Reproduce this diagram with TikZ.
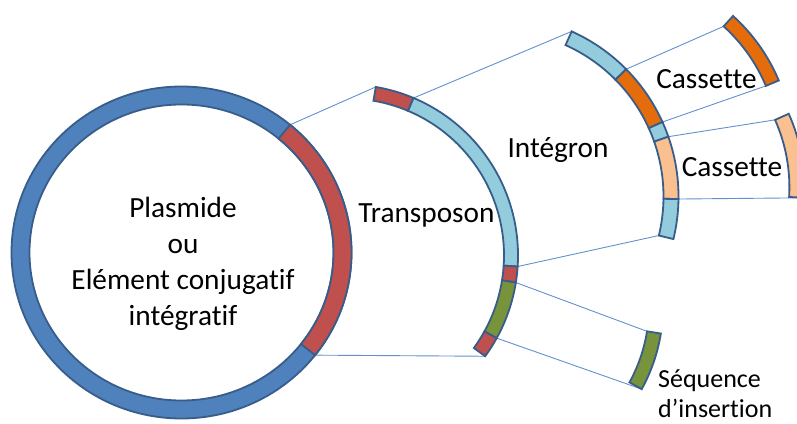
\documentclass[tikz,border=0pt]{standalone}
\usepackage{fontspec}
\setmainfont{Carlito}[Ligatures=NoCommon]
\usetikzlibrary{calc}
\definecolor{ringblue}{RGB}{79,129,189}
\definecolor{edgeblue}{RGB}{56,93,138}
\definecolor{segred}{RGB}{192,80,77}
\definecolor{seglight}{RGB}{147,205,221}
\definecolor{segorange}{RGB}{228,108,10}
\definecolor{segpeach}{RGB}{250,192,144}
\definecolor{seggreen}{RGB}{119,147,60}
\definecolor{linkblue}{RGB}{100,145,205}
% #1 style, #2 centre, #3 outer radius, #4 inner radius, #5 start angle, #6 end angle
\newcommand{\annsec}[6]{\path[#1] ($(#2)+(#5:#3pt)$) arc[start angle=#5,end angle=#6,radius=#3pt] -- ($(#2)+(#6:#4pt)$) arc[start angle=#6,end angle=#5,radius=#4pt] -- cycle;}
\begin{document}
\begin{tikzpicture}[x=1pt,y=1pt,
  seg/.style={draw=edgeblue,line width=1.8pt,line join=miter,fill=#1},
  link/.style={draw=linkblue,line width=0.9pt},
  lab/.style={font=\fontsize{29.3}{35.7}\selectfont,inner sep=0pt,text=black},
  smalllab/.style={font=\fontsize{26}{30}\selectfont,inner sep=0pt,text=black}]
\fill[white] (0,0) rectangle (797,423);
\clip (0,0) rectangle (797,423);
% centres
\coordinate (B) at (181.5,170.5);
\coordinate (T) at (347,167.5);
\coordinate (S) at (492,116.5);
\coordinate (I) at (497.5,226.5);
\coordinate (C1) at (611,272);
\coordinate (C2) at (623.4,235.6);
% link end points
\coordinate (bTop) at ($(B)+({170*cos(50.3)},{166*sin(50.3)})$);
\coordinate (bBot) at ($(B)+({170*cos(-38.2)},{166*sin(-38.2)})$);
\coordinate (tStart) at ($(T)+(80.3:171pt)$);
\coordinate (tB1) at ($(T)+(67.1:171pt)$);
\coordinate (tB2) at ($(T)+(-3.7:171pt)$);
\coordinate (tB3) at ($(T)+(-9.1:171pt)$);
\coordinate (tB4) at ($(T)+(-28.9:171pt)$);
\coordinate (tEnd) at ($(T)+(-36.1:171pt)$);
\coordinate (sTop) at ($(S)+(-9.1:157pt)$);
\coordinate (sBot) at ($(S)+(-28.9:171pt)$);
\coordinate (iTop) at ($(I)+(65.8:181pt)$);
\coordinate (iB1) at ($(I)+(44.7:181pt)$);
\coordinate (iB2) at ($(I)+(24.3:181pt)$);
\coordinate (iB3) at ($(I)+(19.3:181pt)$);
\coordinate (iB4) at ($(I)+(-0.8:181pt)$);
\coordinate (iEnd) at ($(I)+(-13.6:166pt)$);
\coordinate (c1Top) at ($(C1)+(47.9:168pt)$);
\coordinate (c1Bot) at ($(C1)+(22.8:168pt)$);
\coordinate (c2Top) at ($(C2)+(24:166pt)$);
\coordinate (c2Bot) at ($(C2)+(-3.3:181pt)$);
% links
\draw[link] (bTop) -- (tStart);
\draw[link] (bBot) -- (tEnd);
\draw[link] (tB1) -- (iTop);
\draw[link] (tB2) -- (iEnd);
\draw[link] (tB3) -- (sTop);
\draw[link] (tB4) -- (sBot);
\draw[link] (iB1) -- (c1Top);
\draw[link] (iB2) -- (c1Bot);
\draw[link] (iB3) -- (c2Top);
\draw[link] (iB4) -- (c2Bot);
% plasmid ring
\path[seg=ringblue,even odd rule] (B) ellipse [x radius=170pt,y radius=166pt] (B) ellipse [x radius=152pt,y radius=148pt];
\path[seg=segred] (bTop) arc[start angle=50.3,end angle=-38.2,x radius=170pt,y radius=166pt]
  -- ($(B)+({152*cos(-38.2)},{148*sin(-38.2)})$) arc[start angle=-38.2,end angle=50.3,x radius=152pt,y radius=148pt] -- cycle;
% transposon
\annsec{seg=segred}{T}{171}{157}{80.3}{67.1}
\annsec{seg=seglight}{T}{171}{157}{67.1}{-3.7}
\annsec{seg=segred}{T}{171}{157}{-3.7}{-9.1}
\annsec{seg=seggreen}{T}{171}{157}{-9.1}{-28.9}
\annsec{seg=segred}{T}{171}{157}{-28.9}{-36.1}
% insertion sequence
\annsec{seg=seggreen}{S}{171}{157}{-9.1}{-28.9}
% integron
\annsec{seg=seglight}{I}{181}{166}{65.8}{44.7}
\annsec{seg=segorange}{I}{181}{166}{44.7}{24.3}
\annsec{seg=seglight}{I}{181}{166}{24.3}{19.3}
\annsec{seg=segpeach}{I}{181}{166}{19.3}{-0.8}
\annsec{seg=seglight}{I}{181}{166}{-0.8}{-13.6}
% cassettes
\annsec{seg=segorange}{C1}{182}{168}{47.9}{22.8}
\annsec{seg=segpeach}{C2}{181}{166}{24}{-3.3}
% labels (base anchor = baseline of the last line)
\node[lab,align=center,anchor=base] (plasmide) at (183,98) {Plasmide\\ou\\Elément conjugatif\\intégratif};
\node[lab,anchor=base] (transposon) at (426.5,200) {Transposon};
\node[lab,anchor=base] (integron) at (558,265) {Intégron};
\node[lab,anchor=base] (cassetteA) at (706.5,334.7) {Cassette};
\node[lab,anchor=base] (cassetteB) at (732,246.3) {Cassette};
\node[smalllab,align=left,anchor=base west] (sequence) at (658,6) {Séquence\\d’insertion};
\end{tikzpicture}
\end{document}
